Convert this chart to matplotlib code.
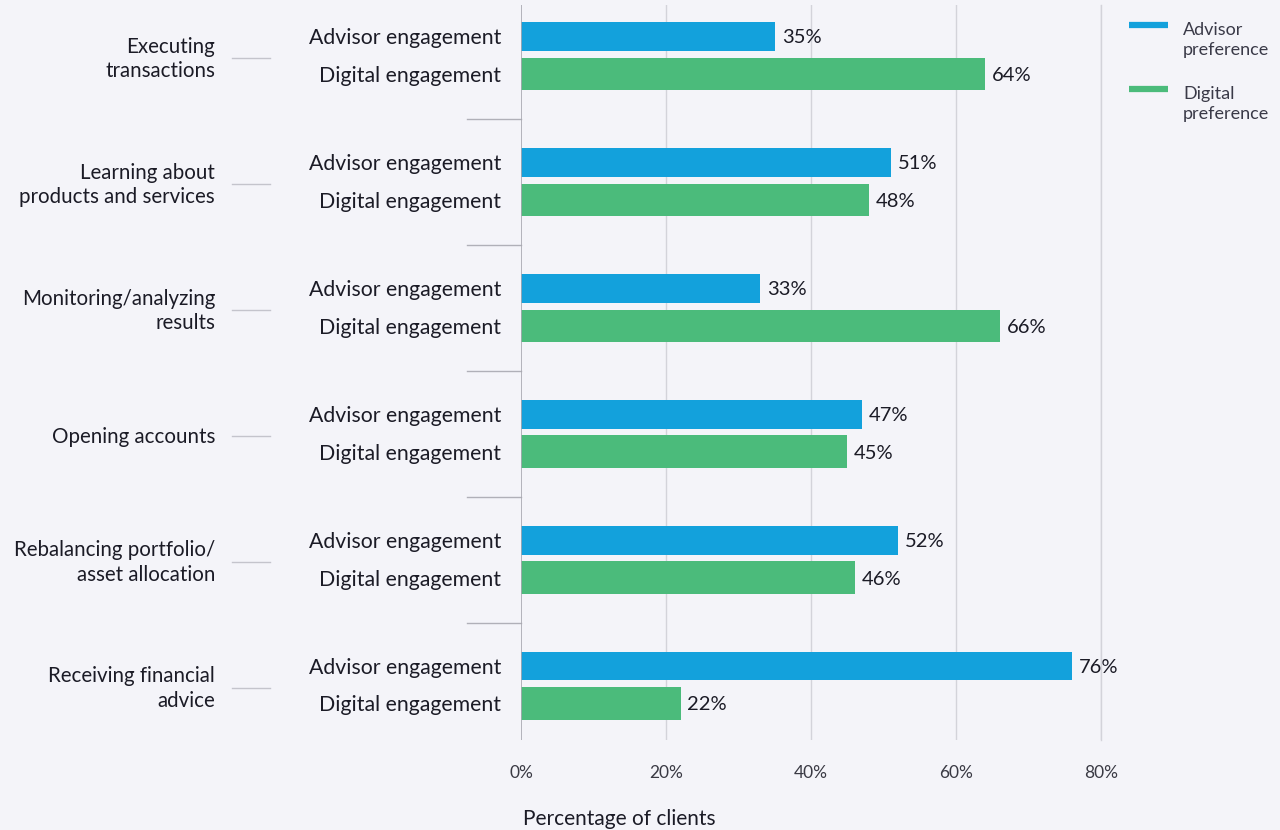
import matplotlib
matplotlib.use("Agg")
import matplotlib.pyplot as plt
from matplotlib.lines import Line2D
import matplotlib.transforms as mtransforms

categories = ["Executing\ntransactions", "Learning about\nproducts and services",
              "Monitoring/analyzing\nresults", "Opening accounts",
              "Rebalancing portfolio/\nasset allocation", "Receiving financial\nadvice"]
advisor = [35, 51, 33, 47, 52, 76]
digital = [64, 48, 66, 45, 46, 22]
sub_labels = ["Advisor engagement", "Digital engagement"]
legend_labels = ["Advisor\npreference", "Digital\npreference"]
xticks = [0, 20, 40, 60, 80]

BG = "#f4f4f9"
BLUE = "#13a1dc"
GREEN = "#4bbb7b"
TXT = "#1b1b26"
GRID = "#d3d3da"

plt.rcParams['font.family'] = ['Lato', 'DejaVu Sans']

W, H = 1280, 830
fig = plt.figure(figsize=(12.8, 8.3), dpi=100, facecolor=BG)
ax = fig.add_axes([521 / W, 1 - 740 / H, (1101 - 521) / W, (740 - 5) / H], facecolor=BG)

n = len(categories)
ys = list(range(n))
adv_y = [y - 0.155 for y in ys]
dig_y = [y + 0.14 for y in ys]
ax.barh(adv_y, advisor, height=0.225, color=BLUE, zorder=3)
ax.barh(dig_y, digital, height=0.255, color=GREEN, zorder=3)

ax.set_xlim(0, 80)
ax.set_ylim(5.43, -0.405)
for s in ax.spines.values():
    s.set_visible(False)
ax.axvline(0, color="#a8a8b0", lw=1.2, zorder=4)
for x in xticks[1:]:
    ax.axvline(x, color=GRID, lw=1, zorder=1)
ax.set_yticks([])
ax.set_xticks(xticks)
ax.set_xticklabels([f"{x}%" for x in xticks], fontsize=12.5, color="#3a3a44")
ax.tick_params(axis='x', length=0, pad=18)

off = mtransforms.offset_copy
for yA, yD, a, d in zip(adv_y, dig_y, advisor, digital):
    ax.text(a, yA, f"{a}%", transform=off(ax.transData, fig=fig, x=7, y=0, units='dots'),
            va='center_baseline', ha='left', fontsize=14.5, color=TXT)
    ax.text(d, yD, f"{d}%", transform=off(ax.transData, fig=fig, x=7, y=0, units='dots'),
            va='center_baseline', ha='left', fontsize=14.5, color=TXT)
    ax.text(0, yA, sub_labels[0], transform=off(ax.transData, fig=fig, x=-20, y=0, units='dots'),
            va='center_baseline', ha='right', fontsize=15.3, color=TXT)
    ax.text(0, yD, sub_labels[1], transform=off(ax.transData, fig=fig, x=-20, y=0, units='dots'),
            va='center_baseline', ha='right', fontsize=15.3, color=TXT)

blend = mtransforms.blended_transform_factory(fig.transFigure, ax.transData)
for i, (y, c) in enumerate(zip(ys, categories)):
    ax.text(215 / W, y, c, transform=off(blend, fig=fig, x=0, y=-3, units='dots'),
            ha='right', va='center', fontsize=14.8,
            color=TXT, linespacing=1.3, clip_on=False)
    ax.add_line(Line2D([232 / W, 270 / W], [y + 0.015, y + 0.015], transform=blend,
                       color="#c4c4cc", lw=1, clip_on=False))
    if i < n - 1:
        ax.add_line(Line2D([467 / W, 521 / W], [y + 0.5, y + 0.5], transform=blend,
                           color="#b0b0b8", lw=1, clip_on=False))

fig.text(523 / W, 1 - 819 / H, "Percentage of clients", ha='left', va='center',
         fontsize=15, color=TXT)

# legend
fig.add_artist(Line2D([1101 / W, 1101 / W], [1 - 5 / H, 1 - 740 / H], color=GRID, lw=1))
for k, (lab, col) in enumerate(zip(legend_labels, [BLUE, GREEN])):
    yl = 1 - (25 + 64 * k) / H
    fig.add_artist(Line2D([1129 / W, 1168 / W], [yl, yl], color=col, lw=4.5,
                          solid_capstyle='butt'))
    fig.text(1183 / W, 1 - (40 + 64 * k) / H, lab, ha='left', va='center',
             fontsize=13, color="#3a3a48", linespacing=1.3)

fig.savefig("out.png", dpi=100, facecolor=BG)
